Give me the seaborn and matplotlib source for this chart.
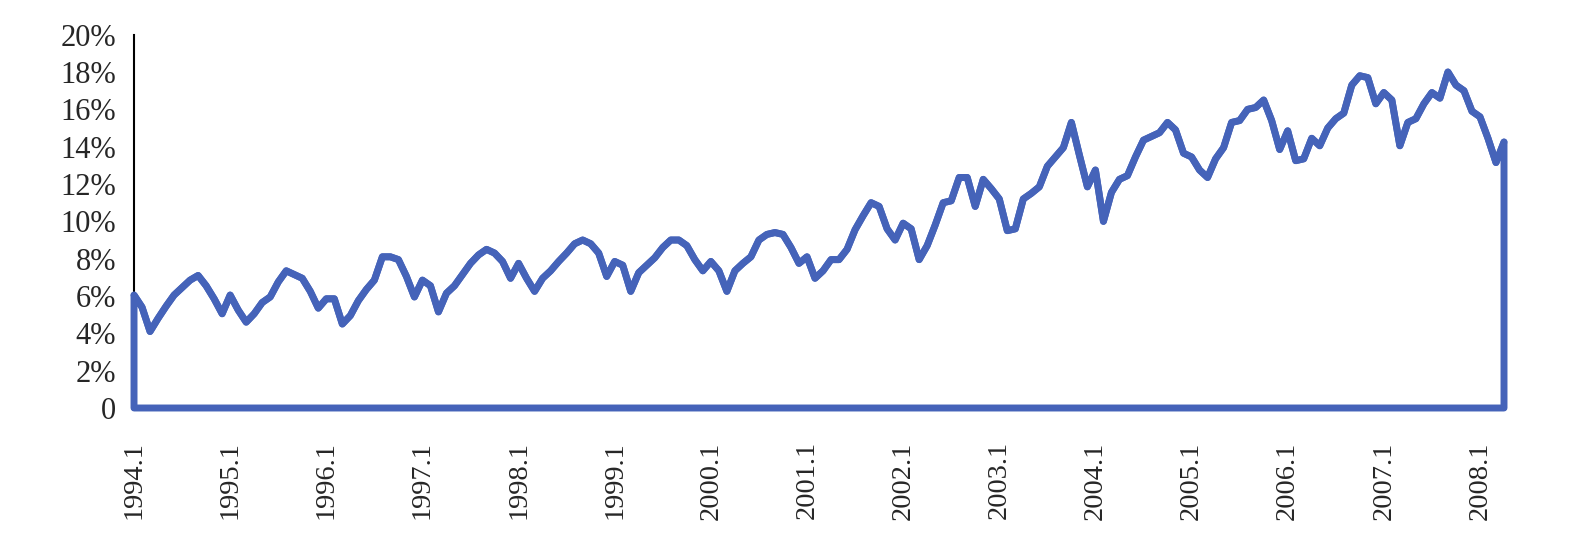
import matplotlib
matplotlib.use('agg')
import matplotlib.pyplot as plt
import seaborn as sns
import pandas as pd

# monthly values, 1994.1 - 2008.4 (percent)
values = [
    6.05, 5.4, 4.1, 4.8, 5.45, 6.05, 6.45, 6.85, 7.1, 6.55, 5.85, 5.05,
    6.05, 5.25, 4.6, 5.05, 5.65, 5.95, 6.75, 7.35, 7.15, 6.95, 6.25, 5.35,
    5.85, 5.85, 4.5, 4.95, 5.75, 6.35, 6.85, 8.1, 8.1, 7.95, 7.05, 5.95,
    6.85, 6.55, 5.15, 6.15, 6.55, 7.15, 7.75, 8.2, 8.5, 8.3, 7.85, 6.95,
    7.75, 6.95, 6.25, 6.95, 7.35, 7.85, 8.3, 8.8, 9.0, 8.8, 8.3, 7.05,
    7.85, 7.65, 6.25, 7.25, 7.65, 8.05, 8.6, 9.0, 9.0, 8.7, 7.95, 7.35,
    7.85, 7.35, 6.25, 7.35, 7.75, 8.1, 9.0, 9.3, 9.4, 9.3, 8.6, 7.75,
    8.1, 6.95, 7.35, 7.95, 7.95, 8.5, 9.55, 10.3, 11.0, 10.8, 9.6, 9.0,
    9.9, 9.6, 7.95, 8.7, 9.8, 11.0, 11.1, 12.35, 12.35, 10.8, 12.25, 11.75,
    11.2, 9.5, 9.6, 11.2, 11.5, 11.85, 12.95, 13.45, 13.95, 15.3, 13.55, 11.85,
    12.75, 10.0, 11.55, 12.25, 12.45, 13.45, 14.35, 14.55, 14.75, 15.3, 14.9, 13.65,
    13.45, 12.75, 12.35, 13.35, 13.95, 15.3, 15.4, 16.0, 16.1, 16.5, 15.4, 13.85,
    14.85, 13.25, 13.35, 14.45, 14.05, 15.0, 15.5, 15.8, 17.3, 17.8, 17.7, 16.3,
    16.9, 16.5, 14.05, 15.3, 15.5, 16.3, 16.9, 16.6, 18.0, 17.3, 17.0, 15.9,
    15.6, 14.45, 13.15, 14.25,
]
years = list(range(1994, 2009))
year_labels = [f"{y}.1" for y in years]
y_ticks = [0, 2, 4, 6, 8, 10, 12, 14, 16, 18, 20]
y_labels = ["0"] + [f"{v}%" for v in y_ticks[1:]]

df = pd.DataFrame({"month": range(len(values)), "value": values})
blue = "#4563B9"

sns.set_style("white")
plt.rcParams['font.family'] = ['Liberation Serif', 'DejaVu Serif']

fig = plt.figure(figsize=(15.86, 5.44), dpi=100)
ax = fig.add_axes([0.0845, 0.25, 0.8638, 0.6862])

# area outline (no fill), like the original area chart
poly = ax.fill_between(df["month"], df["value"], 0, facecolor="none",
                       edgecolor=blue, linewidth=5, zorder=3, clip_on=False)
poly.set_joinstyle("round")
sns.lineplot(data=df, x="month", y="value", color=blue, linewidth=5,
             ax=ax, zorder=4, clip_on=False, solid_joinstyle="round")

ax.set_xlim(0, len(values) - 1)
ax.set_ylim(0, 20)
ax.set_xticks([12 * i for i in range(len(years))])
ax.set_xticklabels(year_labels, rotation=90, fontsize=20.5)
ax.set_yticks(y_ticks)
ax.set_yticklabels(y_labels, fontsize=22)
ax.set_xlabel("")
ax.set_ylabel("")

for s in ["top", "right"]:
    ax.spines[s].set_visible(False)
ax.spines["left"].set_color("black")
ax.spines["left"].set_linewidth(1.5)
ax.spines["bottom"].set_color("black")
ax.spines["bottom"].set_linewidth(1.5)

ax.tick_params(axis="y", direction="in", length=11.5, width=1.5, color="black", pad=13)
ax.tick_params(axis="x", direction="in", length=10, width=1.5, color="black", pad=24)

fig.savefig("out.png", dpi=100)
